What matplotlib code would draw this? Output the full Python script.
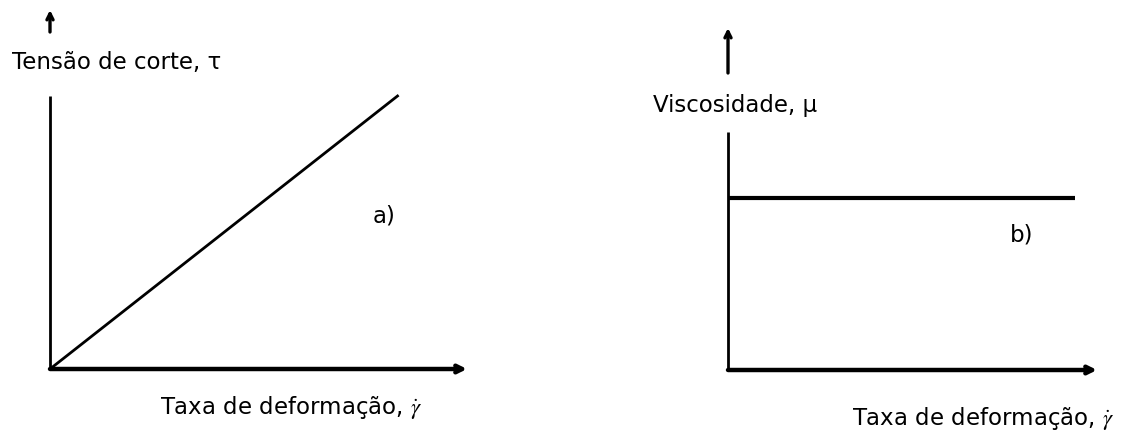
import matplotlib
matplotlib.use("Agg")
import matplotlib.pyplot as plt

# --- data -------------------------------------------------------------
shear_rate = [0.0, 1.0]          # Taxa de deformação (arbitrary units)
shear_stress = [0.0, 1.0]        # Tensão de corte, linear (Newtonian)
viscosity = [1.0, 1.0]           # Viscosidade, constant (Newtonian)

ylabel_a = "Tensão de corte, τ"
ylabel_b = "Viscosidade, μ"
xlabel = r"Taxa de deformação, $\dot{\gamma}$"
tag_a = "a)"
tag_b = "b)"

plt.rcParams['font.family'] = ['DejaVu Sans']
plt.rcParams['mathtext.fontset'] = 'stix'

W, H = 1127, 436
FS = 16.5
fig = plt.figure(figsize=(W / 100, H / 100), dpi=100)
fig.patch.set_facecolor('white')


def fx(px):
    return px / W


def fy(py):
    return 1 - py / H


def make_axes(x0, y0, x1, y1):
    # x0,y0 : origin in pixels (from top-left); x1: right end; y1: top
    ax = fig.add_axes([fx(x0), fy(y0), fx(x1) - fx(x0), fy(y1) - fy(y0)])
    for s in ax.spines.values():
        s.set_visible(False)
    ax.set_xticks([])
    ax.set_yticks([])
    ax.patch.set_alpha(0)
    return ax


def axis_lines(ax, ylw=2.0, xlw=3.2):
    ax.plot([0, 0], [0, 1], transform=ax.transAxes, color='black',
            lw=ylw, clip_on=False, solid_capstyle='butt')
    ax.annotate('', xy=(1.0, 0), xytext=(0, 0), xycoords='axes fraction',
                textcoords='axes fraction',
                arrowprops=dict(arrowstyle='->', lw=xlw, color='black',
                                mutation_scale=12, shrinkA=0, shrinkB=0))


def up_arrow(xpx, ytop, ybot, lw=2.4):
    fig.add_artist(matplotlib.patches.FancyArrowPatch(
        (fx(xpx), fy(ybot)), (fx(xpx), fy(ytop)), transform=fig.transFigure,
        arrowstyle='->', lw=lw, color='black', mutation_scale=11,
        shrinkA=0, shrinkB=0))


# --- panel a ----------------------------------------------------------
axa = make_axes(50, 369, 467, 96)
axa.set_xlim(0, 1.2)
axa.set_ylim(0, 1.0)
axis_lines(axa)
axa.plot(shear_rate, shear_stress, color='black', lw=2.0, clip_on=False)
up_arrow(50, 10, 32)

fig.text(fx(12), fy(63), ylabel_a, ha='left', va='center', fontsize=FS)
fig.text(fx(160), fy(407), xlabel, ha='left', va='center', fontsize=FS)
fig.text(fx(373), fy(216), tag_a, ha='left', va='center', fontsize=FS)

# --- panel b ----------------------------------------------------------
axb = make_axes(728, 370, 1097, 132)
axb.set_xlim(0, 1.063)
axb.set_ylim(0, 1.384)
axis_lines(axb)
axb.plot(shear_rate, viscosity, color='black', lw=3.0, clip_on=False,
         solid_capstyle='butt')
up_arrow(728, 28, 73)

fig.text(fx(653), fy(105), ylabel_b, ha='left', va='center', fontsize=FS)
fig.text(fx(852), fy(418), xlabel, ha='left', va='center', fontsize=FS)
fig.text(fx(1010), fy(235), tag_b, ha='left', va='center', fontsize=FS)

fig.savefig('out.png', dpi=100, facecolor='white')
